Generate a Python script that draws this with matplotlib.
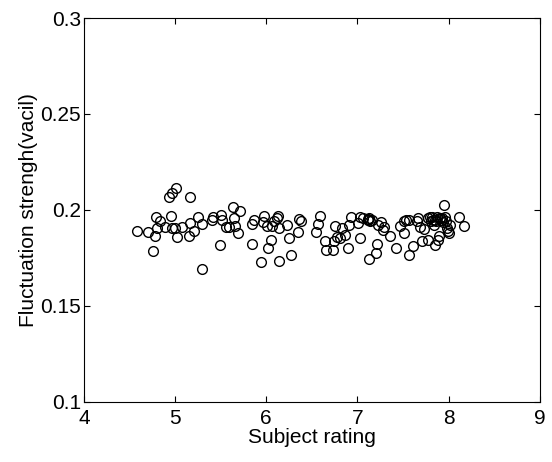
import matplotlib
matplotlib.use('Agg')
import matplotlib.pyplot as plt

plt.rcParams['font.family'] = ['Liberation Sans', 'DejaVu Sans']

# subject rating vs fluctuation strength
rating = [4.58, 4.70, 4.76, 4.78, 4.79, 4.80, 4.83, 4.89, 4.93, 4.95,
          4.97, 4.97, 5.01, 5.00, 5.02, 5.08, 5.15, 5.16, 5.16, 5.21,
          5.25, 5.29, 5.30, 5.41, 5.42, 5.49, 5.50, 5.51, 5.56, 5.59,
          5.63, 5.65, 5.66, 5.69, 5.71, 5.84, 5.84, 5.86, 5.94, 5.96,
          5.98, 6.02, 6.01, 6.05, 6.06, 6.09, 6.12, 6.13, 6.14, 6.14,
          6.23, 6.25, 6.27, 6.35, 6.36, 6.38, 6.55, 6.57, 6.59, 6.64,
          6.65, 6.73, 6.74, 6.75, 6.78, 6.81, 6.83, 6.86, 6.90, 6.91,
          6.93, 7.01, 7.03, 7.03, 7.06, 7.12, 7.13, 7.14, 7.16, 7.20,
          7.21, 7.22, 7.26, 7.28, 7.29, 7.36, 7.42, 7.47, 7.51, 7.51,
          7.53, 7.56, 7.57, 7.61, 7.65, 7.66, 7.69, 7.71, 7.73, 7.77,
          7.77, 7.80, 7.82, 7.84, 7.85, 7.87, 7.88, 7.89, 7.91, 7.93,
          7.95, 7.96, 7.97, 7.98, 7.99, 8.00, 8.01, 8.11, 8.17, 7.94,
          7.85, 7.81, 7.13, 7.11, 7.83, 7.90, 7.92, 7.86]
strength = [0.1893, 0.1885, 0.1785, 0.1864, 0.1964, 0.1905, 0.1943, 0.1909, 0.2069, 0.1971,
            0.2086, 0.1905, 0.2115, 0.1905, 0.1861, 0.1909, 0.1866, 0.1930, 0.2069, 0.1888,
            0.1964, 0.1692, 0.1928, 0.1950, 0.1964, 0.1816, 0.1974, 0.1950, 0.1912, 0.1912,
            0.2017, 0.1957, 0.1916, 0.1880, 0.1995, 0.1928, 0.1823, 0.1948, 0.1730, 0.1936,
            0.1971, 0.1802, 0.1916, 0.1844, 0.1916, 0.1940, 0.1957, 0.1971, 0.1734, 0.1905,
            0.1923, 0.1854, 0.1768, 0.1883, 0.1954, 0.1943, 0.1885, 0.1928, 0.1971, 0.1840,
            0.1789, 0.1789, 0.1837, 0.1916, 0.1861, 0.1854, 0.1905, 0.1868, 0.1802, 0.1923,
            0.1966, 0.1930, 0.1854, 0.1966, 0.1957, 0.1954, 0.1747, 0.1943, 0.1950, 0.1778,
            0.1823, 0.1923, 0.1936, 0.1895, 0.1912, 0.1864, 0.1802, 0.1919, 0.1880, 0.1940,
            0.1947, 0.1768, 0.1950, 0.1811, 0.1943, 0.1957, 0.1912, 0.1837, 0.1899, 0.1844,
            0.1957, 0.1964, 0.1964, 0.1923, 0.1820, 0.1964, 0.1845, 0.1863, 0.1957, 0.1957,
            0.2026, 0.1964, 0.1943, 0.1905, 0.1888, 0.1878, 0.1923, 0.1964, 0.1919, 0.1936,
            0.1948, 0.1943, 0.1960, 0.1950, 0.1950, 0.1960, 0.1950, 0.1940]

fig = plt.figure(figsize=(5.52, 4.62), dpi=100)
ax = fig.add_axes([0.152, 0.13, 0.826, 0.831])

ax.plot(rating, strength, 'o', mfc='none', mec='black', ms=7, mew=1.0)

ax.set_xlim(4, 9)
ax.set_ylim(0.1, 0.3)
ax.set_xticks([4, 5, 6, 7, 8, 9])
ax.set_yticks([0.1, 0.15, 0.2, 0.25, 0.3])
ax.set_yticklabels(['0.1', '0.15', '0.2', '0.25', '0.3'])
ax.tick_params(direction='in', length=4, labelsize=15, top=True, right=True, pad=2)
ax.tick_params(axis='x', pad=5)
ax.set_xlabel('Subject rating', fontsize=15, labelpad=0)
ax.set_ylabel('Fluctuation strengh(vacil)', fontsize=15, labelpad=2)
for s in ax.spines.values():
    s.set_linewidth(0.8)

fig.savefig('out.png', dpi=100)
